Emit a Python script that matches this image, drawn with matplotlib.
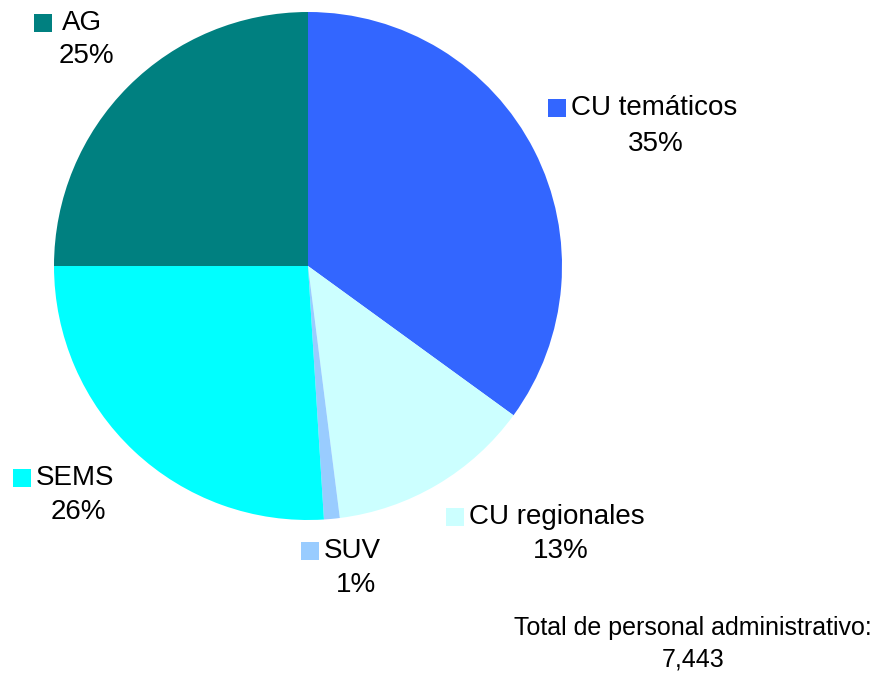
import matplotlib
matplotlib.use("Agg")
import matplotlib.pyplot as plt
from matplotlib.patches import Rectangle

plt.rcParams['font.family'] = ['Liberation Sans', 'DejaVu Sans']

categories = ['CU temáticos', 'CU regionales', 'SUV', 'SEMS', 'AG']
shares = [35, 13, 1, 26, 25]
colors = ['#3366FF', '#CCFFFF', '#99CCFF', '#00FFFF', '#008080']
total_lines = ['Total de personal administrativo:', '7,443']

W, H = 894, 674
fig = plt.figure(figsize=(W / 100, H / 100), dpi=100)

# pie centre (308, 266) px, radius 254 px
cx, cy, r = 308, 266, 254
ax = fig.add_axes([(cx - r) / W, (H - cy - r) / H, 2 * r / W, 2 * r / H])
ax.pie(shares, colors=colors, startangle=90, counterclock=False,
       wedgeprops=dict(linewidth=0), radius=1.0)
ax.set_xlim(-1, 1)
ax.set_ylim(-1, 1)
ax.set_aspect('equal')
ax.axis('off')

# label layout in pixels: square left x, name line centre y, pct centre x, pct centre y
label_pos = {
    'CU temáticos': (548, 108, 656, 144),
    'CU regionales': (446, 517, 561, 551),
    'SUV': (301, 551, 356, 585),
    'SEMS': (13, 478, 78, 512),
    'AG': (34, 23, 86, 56),
}
sq = 18
for name, pct, col in zip(categories, shares, colors):
    sx, ny, px, py = label_pos[name]
    fig.patches.append(Rectangle((sx / W, (H - ny - sq / 2) / H), sq / W, sq / H,
                                 transform=fig.transFigure, facecolor=col,
                                 edgecolor='none'))
    gap = 10 if name == 'AG' else 5
    fig.text((sx + sq + gap) / W, (H - ny) / H, name, fontsize=20,
             ha='left', va='center')
    fig.text(px / W, (H - py) / H, f'{pct}%', fontsize=20,
             ha='center', va='center')

for line, y in zip(total_lines, [628, 660]):
    fig.text(693 / W, (H - y) / H, line, fontsize=18, ha='center', va='center')

fig.savefig('out.png', dpi=100, facecolor='white')
